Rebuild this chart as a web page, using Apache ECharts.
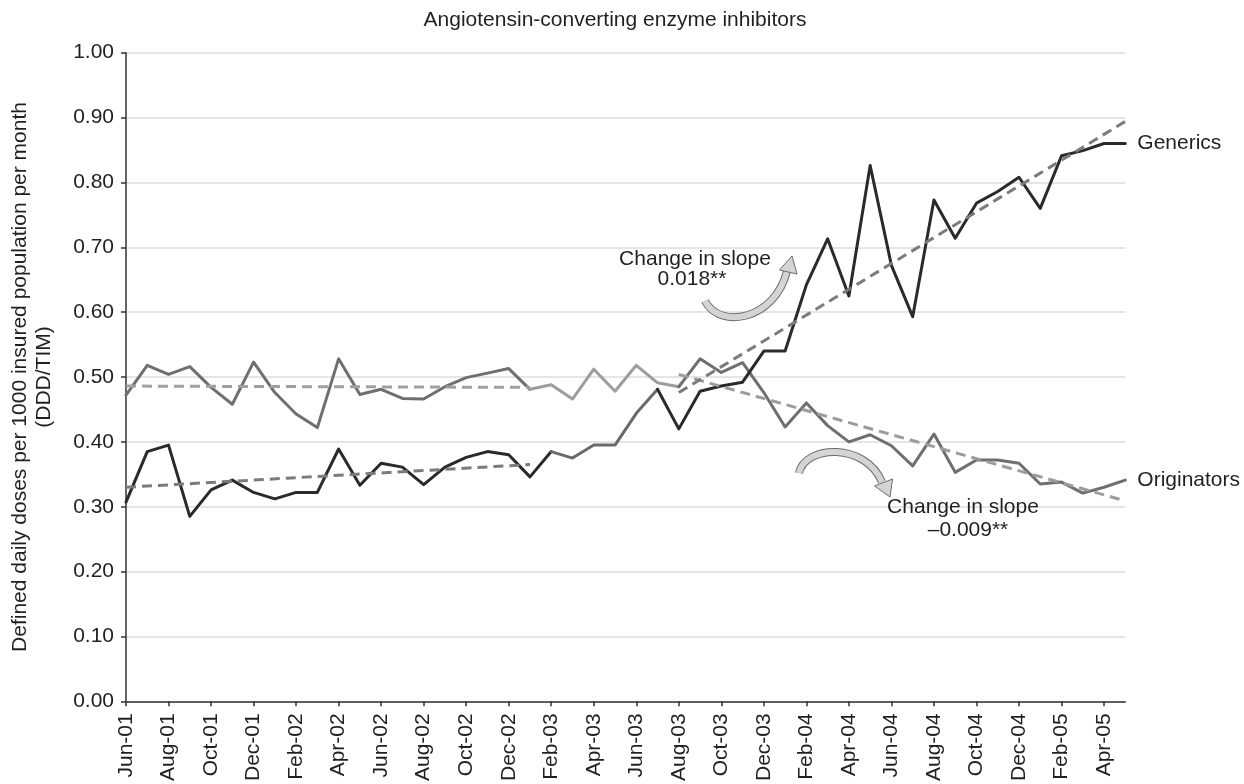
<!DOCTYPE html>
<html>
<head>
<meta charset="utf-8">
<title>Angiotensin-converting enzyme inhibitors</title>
<script src="https://cdn.jsdelivr.net/npm/echarts@6/dist/echarts.min.js"></script>
<style>
  html, body { margin: 0; padding: 0; background: #fff; }
  #chart { width: 1244px; height: 784px; }
</style>
</head>
<body>
<div id="chart"></div>
<script>
// Monthly categories, Jun 2001 – May 2005
const months = [
  'Jun-01','Jul-01','Aug-01','Sep-01','Oct-01','Nov-01','Dec-01',
  'Jan-02','Feb-02','Mar-02','Apr-02','May-02','Jun-02','Jul-02','Aug-02','Sep-02','Oct-02','Nov-02','Dec-02',
  'Jan-03','Feb-03','Mar-03','Apr-03','May-03','Jun-03','Jul-03','Aug-03','Sep-03','Oct-03','Nov-03','Dec-03',
  'Jan-04','Feb-04','Mar-04','Apr-04','May-04','Jun-04','Jul-04','Aug-04','Sep-04','Oct-04','Nov-04','Dec-04',
  'Jan-05','Feb-05','Mar-05','Apr-05','May-05'
];

// DDD/TIM, generics
const generics = [
  0.307, 0.385, 0.395, 0.285, 0.326, 0.341, 0.322, 0.312, 0.322, 0.322,
  0.389, 0.333, 0.367, 0.361, 0.334, 0.361, 0.376, 0.385, 0.380, 0.346,
  0.385, 0.375, 0.395, 0.395, 0.444, 0.481, 0.420, 0.478, 0.486, 0.492,
  0.540, 0.540, 0.642, 0.713, 0.625, 0.826, 0.672, 0.593, 0.773, 0.714,
  0.768, 0.786, 0.808, 0.760, 0.841, 0.849, 0.860, 0.860
];

// DDD/TIM, originators
const originators = [
  0.472, 0.518, 0.504, 0.516, 0.484, 0.458, 0.523, 0.476, 0.443, 0.422,
  0.528, 0.473, 0.481, 0.467, 0.466, 0.485, 0.499, 0.506, 0.513, 0.481,
  0.488, 0.466, 0.512, 0.478, 0.518, 0.491, 0.485, 0.528, 0.507, 0.522,
  0.476, 0.423, 0.460, 0.425, 0.400, 0.411, 0.394, 0.363, 0.412, 0.353,
  0.372, 0.372, 0.367, 0.335, 0.338, 0.321, 0.330, 0.341
];

// Segmented regression periods (first and last month)
const prePeriod = ['Jun-01', 'Jan-03'];
const postPeriod = ['Aug-03', 'May-05'];

// Fitted trend values at the start and end of each period
const genericsTrendPre = [0.330, 0.365];
const genericsTrendPost = [0.476, 0.894];
const originatorsTrendPre = [0.486, 0.484];
const originatorsTrendPost = [0.504, 0.309];

// Transition months drawn in a lighter tone
const genericsTransition = ['Feb-03', 'Jul-03'];
const originatorsTransition = ['Jan-03', 'Aug-03'];

const yTicks = [0, 0.1, 0.2, 0.3, 0.4, 0.5, 0.6, 0.7, 0.8, 0.9, 1.0];

const FONT = '"Liberation Sans", Arial, Helvetica, sans-serif';
const FS = 21;
const TEXT = '#231f20';

function part(values, fromLabel, toLabel) {
  const a = months.indexOf(fromLabel), b = months.indexOf(toLabel);
  const out = [];
  for (let i = a; i <= b; i++) out.push([months[i], values[i]]);
  return out;
}
function trend(period, ends) {
  return [[period[0], ends[0]], [period[1], ends[1]]];
}
function solid(name, data, color, extra) {
  return Object.assign({
    name: name, type: 'line', data: data, symbol: 'none', silent: true,
    lineStyle: { color: color, width: 3, join: 'round', cap: 'round' },
    z: 3
  }, extra || {});
}
function dashed(data, color) {
  return {
    type: 'line', data: data, symbol: 'none', silent: true,
    lineStyle: { color: color, width: 3, type: [10, 6] }, z: 4
  };
}
function endLabel() {
  return {
    endLabel: {
      show: true, formatter: '{a}', distance: 12,
      color: TEXT, fontSize: FS, fontFamily: FONT
    }
  };
}
// curved block arrow: outlined body plus a triangular head
function curvedArrow(p0, c1, c2, p1, head) {
  const shape = { x1: p0[0], y1: p0[1], cpx1: c1[0], cpy1: c1[1], cpx2: c2[0], cpy2: c2[1], x2: p1[0], y2: p1[1] };
  return [
    { type: 'bezierCurve', z: 9, shape: shape, style: { fill: null, stroke: '#6d6d6d', lineWidth: 8 } },
    { type: 'bezierCurve', z: 9, shape: shape, style: { fill: null, stroke: '#d4d4d4', lineWidth: 6 } },
    { type: 'polygon', z: 9, shape: { points: head }, style: { fill: '#d4d4d4', stroke: '#6d6d6d', lineWidth: 1 } }
  ];
}
function note(text, x, y) {
  return {
    type: 'text', x: x, y: y, z: 10,
    style: { text: text, fontSize: FS, fontFamily: FONT, fill: TEXT, align: 'center', verticalAlign: 'middle' }
  };
}

const chart = echarts.init(document.getElementById('chart'), null, { renderer: 'canvas' });

const option = {
  backgroundColor: '#ffffff',
  animation: false,
  textStyle: { fontFamily: FONT },
  grid: { left: 122.7, right: 118.7, top: 52.7, bottom: 81.3, containLabel: false },
  xAxis: {
    type: 'category',
    data: months,
    boundaryGap: false,
    axisLine: { lineStyle: { color: '#333', width: 1.5 } },
    axisTick: { show: true, interval: 1, length: 5, lineStyle: { color: '#333', width: 1.5 } },
    axisLabel: {
      interval: 1, rotate: 90, margin: 12,
      color: TEXT, fontSize: FS, fontFamily: FONT
    },
    splitLine: { show: false }
  },
  yAxis: {
    type: 'value',
    min: yTicks[0], max: yTicks[yTicks.length - 1], interval: 0.1,
    name: 'Defined daily doses per 1000 insured population per month\n(DDD/TIM)',
    nameLocation: 'middle',
    nameGap: 70,
    nameRotate: 90,
    nameTextStyle: { color: TEXT, fontSize: FS, fontFamily: FONT, lineHeight: 24, align: 'center' },
    axisLine: { show: true, lineStyle: { color: '#333', width: 1.5 } },
    axisTick: { show: true, length: 5, lineStyle: { color: '#333', width: 1.5 } },
    axisLabel: {
      margin: 12, color: TEXT, fontSize: FS, fontFamily: FONT,
      formatter: function (v) { return v.toFixed(2); }
    },
    splitLine: { lineStyle: { color: '#dcdcdc', width: 1.5 } }
  },
  series: [
    // Originators
    solid('Originators', part(originators, 'Jun-01', originatorsTransition[0]), '#6f6f6f'),
    solid('Originators', part(originators, originatorsTransition[0], originatorsTransition[1]), '#9d9d9d'),
    solid('Originators', part(originators, originatorsTransition[1], 'May-05'), '#6f6f6f', endLabel()),
    // Generics
    solid('Generics', part(generics, 'Jun-01', genericsTransition[0]), '#2a2a2a'),
    solid('Generics', part(generics, genericsTransition[0], genericsTransition[1]), '#6a6a6a'),
    solid('Generics', part(generics, genericsTransition[1], 'May-05'), '#2a2a2a', endLabel()),
    // Segmented trend lines
    dashed(trend(prePeriod, originatorsTrendPre), '#a0a0a0'),
    dashed(trend(postPeriod, originatorsTrendPost), '#9c9c9c'),
    dashed(trend(prePeriod, genericsTrendPre), '#7b7b7b'),
    dashed(trend(postPeriod, genericsTrendPost), '#7b7b7b')
  ],
  graphic: [
    note('Angiotensin-converting enzyme inhibitors', 615, 20),
    note('Change in slope', 695, 259),
    note('0.018**', 692, 279),
    note('Change in slope', 963, 507),
    note('\u20130.009**', 968, 530)
  ].concat(
    curvedArrow([705, 301], [720, 330], [775, 320], [787, 271], [[792, 256], [779.5, 270], [797, 274]]),
    curvedArrow([799, 473], [805, 445], [865, 442], [882, 482], [[890, 497], [874.5, 486], [892.5, 479]])
  )
};

chart.setOption(option);
</script>
</body>
</html>
